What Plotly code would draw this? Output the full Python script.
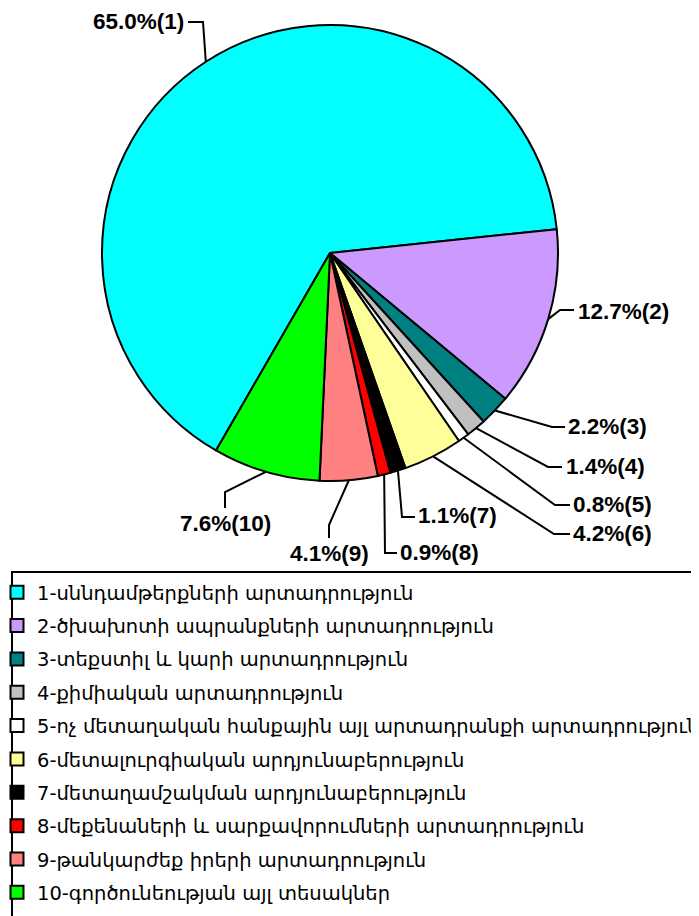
import math
import plotly.graph_objects as go

# ---- data ----
categories = [
    "1-սննդամթերքների արտադրություն",
    "2-ծխախոտի ապրանքների արտադրություն",
    "3-տեքստիլ և կարի արտադրություն",
    "4-քիմիական արտադրություն",
    "5-ոչ մետաղական հանքային այլ արտադրանքի արտադրություն",
    "6-մետալուրգիական արդյունաբերություն",
    "7-մետաղամշակման արդյունաբերություն",
    "8-մեքենաների և սարքավորումների արտադրություն",
    "9-թանկարժեք իրերի արտադրություն",
    "10-գործունեության այլ տեսակներ",
]
shares = [65.0, 12.7, 2.2, 1.4, 0.8, 4.2, 1.1, 0.9, 4.1, 7.6]
slice_ids = ["1", "2", "3", "4", "5", "6", "7", "8", "9", "10"]

# ---- style / layout ----
colors = ["#00FFFF", "#CC99FF", "#008080", "#C0C0C0", "#FFFFFF",
          "#FFFF99", "#000000", "#FF0000", "#FF8080", "#00FF00"]
W, H = 699, 916
OFF = 8  # page body margin of the html page
CX, CY, R = 330, 253, 228
ROTATION = 210

# label leader layout in page pixels: (elbow, line end, text anchor, xanchor, yanchor)
label_layout = [
    ((203, 22), (188, 22), (186, 21), "right", "middle"),
    ((560, 310), (574, 310), (576, 311), "left", "middle"),
    ((552, 427), (565, 427), (566, 426), "left", "middle"),
    ((548, 467), (562, 467), (564, 466), "left", "middle"),
    ((555, 505), (570, 505), (571, 504), "left", "middle"),
    ((554, 534), (570, 534), (571, 533), "left", "middle"),
    ((402, 517), (415, 517), (416, 516), "left", "middle"),
    ((385, 553), (397, 553), (398, 552), "left", "middle"),
    ((329, 525), (329, 538), (329, 539), "center", "top"),
    ((225, 492), (225, 508), (225, 509), "center", "top"),
]


def px(x):
    return (x - OFF) / W


def py(y):
    return 1 - (y - OFF) / H


fig = go.Figure()
fig.add_trace(go.Pie(
    labels=categories,
    values=shares,
    sort=False,
    direction="clockwise",
    rotation=ROTATION,
    textinfo="none",
    hoverinfo="label+percent",
    showlegend=False,
    marker=dict(colors=colors, line=dict(color="#000000", width=2)),
    domain=dict(x=[px(CX - R), px(CX + R)], y=[py(CY + R), py(CY - R)]),
))

# legend entries (one per category, same colours as the slices)
for i, name in enumerate(categories):
    fig.add_trace(go.Scatter(
        x=[None], y=[None], mode="markers", name=name,
        legendgroup=f"g{i}", showlegend=True, hoverinfo="skip",
        marker=dict(symbol="square", size=13, color=colors[i],
                    line=dict(color="#000000", width=2)),
    ))

total = sum(shares)
cum = 0.0
shapes = []
annotations = []
for i, v in enumerate(shares):
    mid = ROTATION + (cum + v / 2) / total * 360
    cum += v
    th = math.radians(mid)
    ex, ey = CX + R * math.sin(th), CY - R * math.cos(th)
    (bx, by), (lx, ly), (tx, ty), xa, ya = label_layout[i]
    shapes.append(dict(
        type="path", xref="paper", yref="paper",
        path=f"M {px(ex)},{py(ey)} L {px(bx)},{py(by)} L {px(lx)},{py(ly)}",
        line=dict(color="#000000", width=2),
    ))
    annotations.append(dict(
        x=px(tx), y=py(ty), xref="paper", yref="paper",
        text=f"<b>{v:.1f}%({slice_ids[i]})</b>",
        showarrow=False, xanchor=xa, yanchor=ya,
        font=dict(family="Liberation Sans, Arial", size=22.5, color="#000000"),
    ))

# legend frame
shapes.append(dict(
    type="rect", xref="paper", yref="paper",
    x0=px(12), x1=px(730), y0=py(940), y1=py(572),
    line=dict(color="#000000", width=2), fillcolor="rgba(0,0,0,0)",
))

fig.update_layout(
    width=W, height=H,
    margin=dict(l=0, r=0, t=0, b=0, autoexpand=False),
    paper_bgcolor="#FFFFFF",
    plot_bgcolor="rgba(0,0,0,0)",
    xaxis=dict(visible=False),
    yaxis=dict(visible=False),
    showlegend=True,
    legend=dict(
        x=px(-3), y=py(573), xanchor="left", yanchor="top",
        font=dict(family="DejaVu Sans", size=19.5, color="#000000"),
        bgcolor="rgba(0,0,0,0)", borderwidth=0,
        traceorder="grouped", tracegroupgap=5,
    ),
    shapes=shapes,
    annotations=annotations,
)

fig.write_html("out.html")
